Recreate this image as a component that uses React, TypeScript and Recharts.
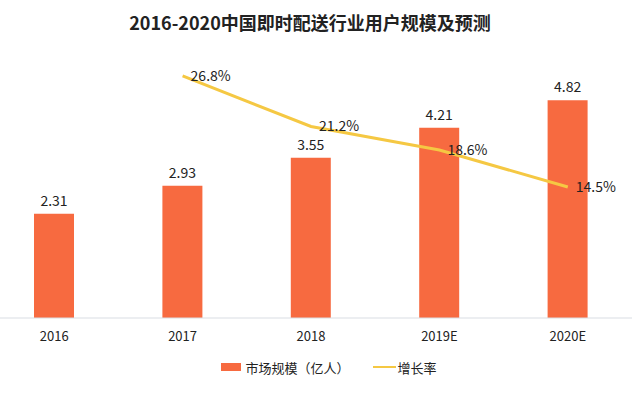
import React from "react";
import {
  ComposedChart,
  Bar,
  Line,
  XAxis,
  YAxis,
  LabelList,
  Legend,
} from "recharts";

const years = ["2016", "2017", "2018", "2019E", "2020E"];
const users = [2.31, 2.93, 3.55, 4.21, 4.82];
const growth: (number | null)[] = [null, 26.8, 21.2, 18.6, 14.5];

const C_BAR = "#f76a40";
const C_LINE = "#f5c843";
const C_TEXT = "#222222";
const FONT = '"Noto Sans CJK SC", "Noto Sans", sans-serif';

const data = years.map((y, i) => ({
  year: y,
  users: users[i],
  growth: growth[i],
}));

function LegendContent() {
  return (
    <div
      style={{
        display: "flex",
        justifyContent: "center",
        alignItems: "center",
        paddingLeft: 36,
        fontFamily: FONT,
        fontSize: 13,
        color: C_TEXT,
        height: 38,
      }}
    >
      <span style={{ display: "inline-block", width: 20, height: 8, background: C_BAR, marginRight: 4 }} />
      <span style={{ marginRight: 23 }}>市场规模（亿人）</span>
      <span style={{ display: "inline-block", width: 23, height: 2, background: C_LINE, marginRight: 2 }} />
      <span>增长率</span>
    </div>
  );
}

export default function App() {
  return (
    <div style={{ position: "absolute", left: 0, top: 0, width: 640, height: 393, overflow: "hidden", background: "#fff" }}>
      <div
        style={{
          position: "absolute",
          left: 0,
          width: 620,
          top: 9,
          textAlign: "center",
          fontFamily: FONT,
          fontWeight: 700,
          fontSize: 18,
          color: C_TEXT,
        }}
      >
        2016-2020中国即时配送行业用户规模及预测
      </div>
      <div style={{ position: "absolute", left: -10, top: 0 }}>
        <ComposedChart
          width={650}
          height={393}
          data={data}
          margin={{ top: 47, right: 8, left: 0, bottom: 5 }}
          style={{ fontFamily: FONT }}
        >
          <XAxis
            dataKey="year"
            axisLine={{ stroke: "#d9dde3" }}
            tickLine={false}
            tick={{ fontSize: 13, fill: C_TEXT }}
            tickMargin={8}
            height={30}
          />
          <YAxis yAxisId="left" domain={[0, 6]} hide />
          <YAxis yAxisId="right" orientation="right" domain={[0, 30]} hide />
          <Legend verticalAlign="bottom" height={40} content={() => <LegendContent />} />
          <Bar yAxisId="left" dataKey="users" fill={C_BAR} barSize={40} isAnimationActive={false}>
            <LabelList dataKey="users" position="top" offset={8} fill={C_TEXT} fontSize={14} />
          </Bar>
          <Line
            yAxisId="right"
            dataKey="growth"
            type="linear"
            stroke={C_LINE}
            strokeWidth={3}
            dot={false}
            activeDot={false}
            isAnimationActive={false}
          >
            <LabelList
              dataKey="growth"
              position="right"
              offset={8}
              fill={C_TEXT}
              fontSize={14}
              formatter={(v: any) => (v == null ? "" : `${Number(v).toFixed(1)}%`)}
            />
          </Line>
        </ComposedChart>
      </div>
    </div>
  );
}
